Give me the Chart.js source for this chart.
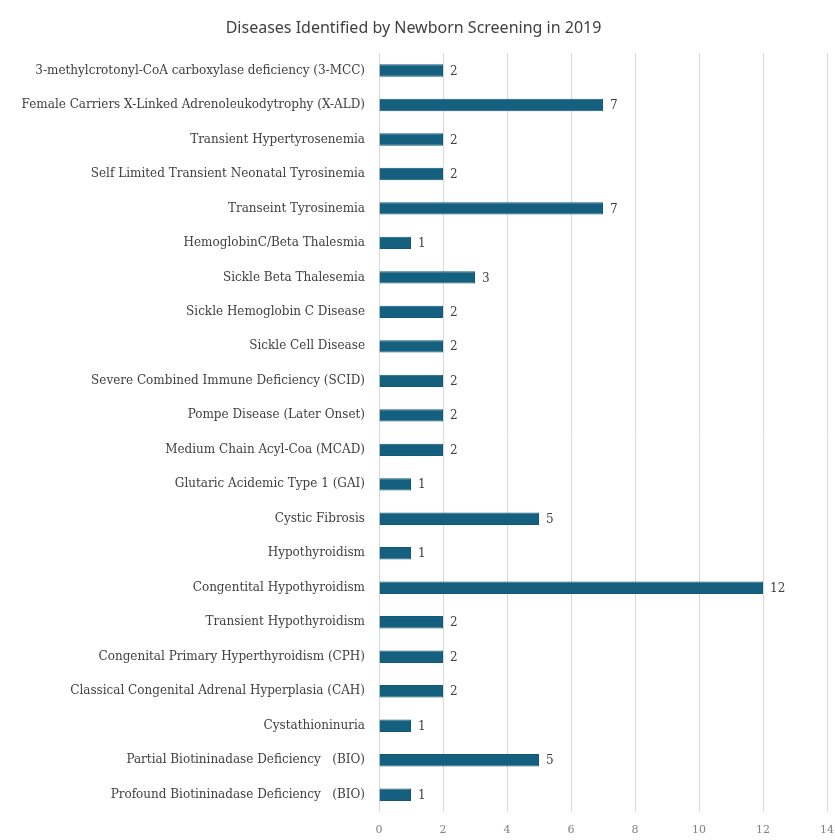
<!DOCTYPE html>
<html>
<head>
<meta charset="utf-8">
<script src="https://cdn.jsdelivr.net/npm/chart.js@4"></script>
<style>
  html, body { margin: 0; padding: 0; background: #fff; }
  #box { width: 835px; height: 840px; position: relative; }
</style>
</head>
<body>
<div id="box"><canvas id="chart"></canvas></div>
<script>
// Diseases identified by newborn screening, 2019 (horizontal bars)
const diseases = [
  '3-methylcrotonyl-CoA carboxylase deficiency (3-MCC)',
  'Female Carriers X-Linked Adrenoleukodytrophy (X-ALD)',
  'Transient Hypertyrosenemia',
  'Self Limited Transient Neonatal Tyrosinemia',
  'Transeint Tyrosinemia',
  'HemoglobinC/Beta Thalesmia',
  'Sickle Beta Thalesemia',
  'Sickle Hemoglobin C Disease',
  'Sickle Cell Disease',
  'Severe Combined Immune Deficiency (SCID)',
  'Pompe Disease (Later Onset)',
  'Medium Chain Acyl-Coa (MCAD)',
  'Glutaric Acidemic Type 1 (GAI)',
  'Cystic Fibrosis',
  'Hypothyroidism',
  'Congentital Hypothyroidism',
  'Transient Hypothyroidism',
  'Congenital Primary Hyperthyroidism (CPH)',
  'Classical Congenital Adrenal Hyperplasia (CAH)',
  'Cystathioninuria',
  'Partial Biotininadase Deficiency   (BIO)',
  'Profound Biotininadase Deficiency   (BIO)'
];
const cases = [2, 7, 2, 2, 7, 1, 3, 2, 2, 2, 2, 2, 1, 5, 1, 12, 2, 2, 2, 1, 5, 1];
const xTicks = [0, 2, 4, 6, 8, 10, 12, 14];

const serif = '"DejaVu Serif", "Liberation Serif", serif';

// value labels to the right of each bar
const valueLabels = {
  id: 'valueLabels',
  afterDatasetsDraw(chart) {
    const ctx = chart.ctx;
    const meta = chart.getDatasetMeta(0);
    ctx.save();
    ctx.font = '12px ' + serif;
    ctx.fillStyle = '#404040';
    ctx.textAlign = 'left';
    ctx.textBaseline = 'middle';
    meta.data.forEach((bar, i) => {
      ctx.fillText(String(cases[i]), bar.x + 7, bar.y + 1);
    });
    ctx.restore();
  }
};

new Chart(document.getElementById('chart'), {
  type: 'bar',
  data: {
    labels: diseases,
    datasets: [{
      label: 'Cases',
      data: cases,
      backgroundColor: '#16607f',
      borderColor: '#125a78',
      borderWidth: 1,
      barPercentage: 0.72,
      categoryPercentage: 0.5
    }]
  },
  options: {
    indexAxis: 'y',
    responsive: true,
    maintainAspectRatio: false,
    animation: false,
    layout: { padding: { top: 4, right: 8, bottom: 0, left: 0 } },
    plugins: {
      legend: { display: false },
      tooltip: { enabled: false },
      title: {
        display: true,
        text: 'Diseases Identified by Newborn Screening in 2019',
        color: '#404040',
        font: { family: '"Liberation Sans Narrow", "Noto Sans", sans-serif', size: 16, weight: 'normal' },
        padding: { top: 15, bottom: 15 }
      }
    },
    scales: {
      x: {
        type: 'linear',
        min: 0,
        max: 14,
        afterBuildTicks: s => { s.ticks = xTicks.map(v => ({ value: v })); },
        afterFit: s => { s.height = 28; s.paddingRight = 0; s.paddingLeft = 0; },
        grid: { color: '#d9d9d9', drawTicks: false },
        border: { display: false },
        ticks: { color: '#7f7f7f', padding: 12, font: { family: serif, size: 11 } }
      },
      y: {
        afterFit: s => { s.width = 379; },
        grid: { display: false, drawTicks: false },
        border: { display: false },
        ticks: { color: '#404040', padding: 14, autoSkip: false, font: { family: serif, size: 12 } }
      }
    }
  },
  plugins: [valueLabels]
});
</script>
</body>
</html>
